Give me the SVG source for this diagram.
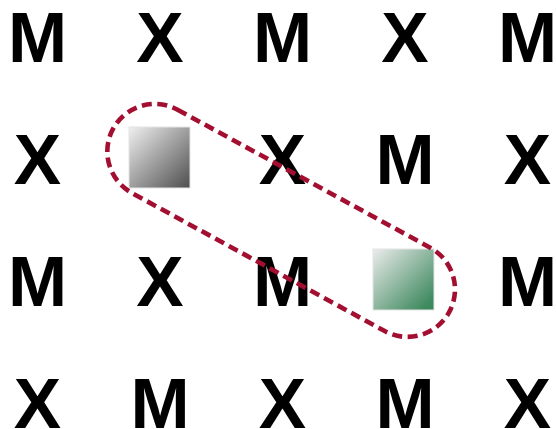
<svg xmlns="http://www.w3.org/2000/svg" width="556" height="429" viewBox="0 0 556 429">
<style>
text{font-family:"Liberation Sans",Arial,sans-serif;font-weight:bold;font-size:71px;fill:#000;text-anchor:middle}
.sq{stroke:#e4e4e4;stroke-width:1}
.cap{fill:none;stroke:#a30f30;stroke-width:4.6;stroke-dasharray:10 5.5}
</style>
<defs>
<linearGradient id="gGray" x1="0" y1="0" x2="1" y2="1">
<stop offset="0" stop-color="#f0f0f0"/>
<stop offset="1" stop-color="#4e4e4e"/>
</linearGradient>
<linearGradient id="gGreen" x1="0" y1="0" x2="1" y2="1">
<stop offset="0" stop-color="#ececec"/>
<stop offset="0.9" stop-color="#3f8a5f"/>
<stop offset="1" stop-color="#3a865a"/>
</linearGradient>
</defs>
<g id="letters">
<g id="r1c1"><text x="37.5" y="62">M</text></g>
<g id="r1c2"><text x="160" y="62">X</text></g>
<g id="r1c3"><text x="282.5" y="62">M</text></g>
<g id="r1c4"><text x="405" y="62">X</text></g>
<g id="r1c5"><text x="527.5" y="62">M</text></g>
<g id="r2c1"><text x="37.5" y="184">X</text></g>
<g id="r2c3"><text x="282.5" y="184">X</text></g>
<g id="r2c4"><text x="405" y="184">M</text></g>
<g id="r2c5"><text x="527.5" y="184">X</text></g>
<g id="r3c1"><text x="37.5" y="306">M</text></g>
<g id="r3c2"><text x="160" y="306">X</text></g>
<g id="r3c3"><text x="282.5" y="306">M</text></g>
<g id="r3c5"><text x="527.5" y="306">M</text></g>
<g id="r4c1"><text x="37.5" y="427.5">X</text></g>
<g id="r4c2"><text x="160" y="427.5">M</text></g>
<g id="r4c3"><text x="282.5" y="427.5">X</text></g>
<g id="r4c4"><text x="405" y="427.5">M</text></g>
<g id="r4c5"><text x="527.5" y="427.5">X</text></g>
</g>
<g id="graySquare"><rect class="sq" x="129" y="127" width="61" height="61" fill="url(#gGray)"/></g>
<g id="greenSquare"><rect class="sq" x="373" y="249" width="61" height="61" fill="url(#gGreen)"/></g>
<g id="connectors">
<rect class="cap" x="-191.45" y="-47.5" width="382.9" height="95" rx="47.5" transform="translate(281.15,220.4) rotate(28.64)"/>
</g>
</svg>
